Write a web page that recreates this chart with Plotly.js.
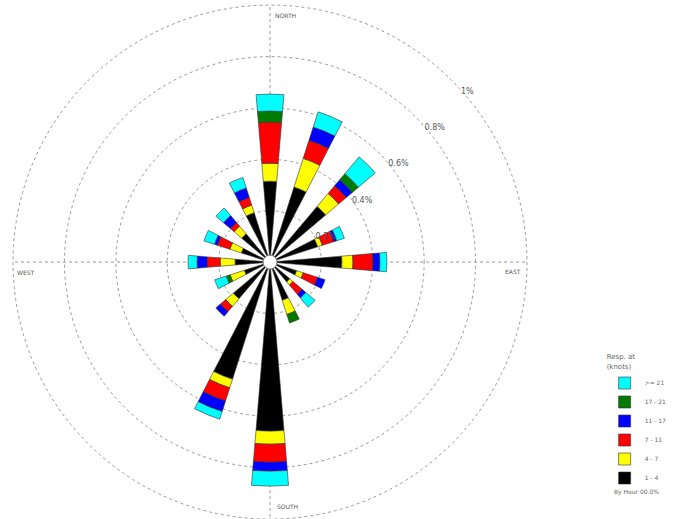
<!DOCTYPE html>
<html>
<head>
<meta charset="utf-8">
<script src="https://cdn.plot.ly/plotly-3.0.1.min.js"></script>
<style>html,body{margin:0;padding:0;background:#fff;}#chart{width:691px;height:519px;}</style>
</head>
<body>
<div id="chart"></div>
<script>
// Direction categories (clockwise from north)
const directions = ['N','NNE','NE','ENE','E','ESE','SE','SSE','S','SSW','SW','WSW','W','WNW','NW','NNW'];
// Speed classes (knots) and colours
const speedClasses = ['1 - 4','4 - 7','7 - 11','11 - 17','17 - 21','>= 21'];
const classColors = ['#000000','#ffff00','#ff0000','#0000ff','#007a00','#00ffff'];
// Frequency (%) per speed class, per direction
const f1to4   = [0.315,0.307,0.284,0.195,0.280,0.109,0.101,0.156,0.658,0.479,0.187,0.105,0.136,0.117,0.144,0.202];
const f4to7   = [0.070,0.117,0.066,0.019,0.043,0.027,0.016,0.058,0.051,0.035,0.039,0.058,0.058,0.047,0.039,0.031];
const f7to11  = [0.160,0.074,0.039,0.047,0.078,0.058,0.047,0.000,0.070,0.054,0.027,0.000,0.051,0.051,0.019,0.031];
const f11to17 = [0.000,0.054,0.031,0.012,0.027,0.031,0.019,0.000,0.035,0.043,0.023,0.000,0.039,0.012,0.035,0.039];
const f17to21 = [0.043,0.000,0.031,0.000,0.000,0.000,0.000,0.035,0.000,0.000,0.000,0.016,0.000,0.000,0.000,0.000];
const fOver21 = [0.066,0.062,0.086,0.031,0.027,0.000,0.047,0.000,0.058,0.031,0.000,0.047,0.035,0.043,0.039,0.043];
const radialTicks = [0.2,0.4,0.6,0.8,1.0];
const radialTickText = ['0.2%','0.4%','0.6%','0.8%','1%'];
const legendTitle = 'Resp. at<br>(knots)';
const footNote = 'By Hour 00.0%';

const series = [f1to4,f4to7,f7to11,f11to17,f17to21,fOver21];
const theta = directions.map((d,i)=> i*360/directions.length);

const traces = series.map((vals,k)=>({
  type:'barpolar',
  name: speedClasses[k],
  r: vals,
  theta: theta,
  width: 9.5,
  marker:{color: classColors[k], line:{color:'#333', width:0.6}},
  hoverinfo:'skip'
}));

const cx = 270, W = 691, H = 519;
const R = 257, cy = H - 0.99*H/2; // polar frame centre / radius in px
const layout = {
  width: W, height: H,
  margin:{l:0,r:0,t:0,b:0},
  paper_bgcolor:'#fff',
  showlegend:true,
  legend:{
    x: 0.875, y: 0.325, xanchor:'left', yanchor:'top',
    traceorder:'reversed',
    font:{family:'DejaVu Sans', size:6, color:'#666'},
    title:{text: legendTitle, font:{family:'DejaVu Sans', size:7, color:'#666'}},
    bgcolor:'rgba(0,0,0,0)'
  },
  polar:{
    domain:{x:[(cx-R)/W, (cx+R)/W], y:[0, 0.99]},
    bgcolor:'#fff',
    barmode:'stack',
    radialaxis:{
      range:[0,1.0], tickvals: radialTicks, ticktext: radialTickText,
      angle:45, tickangle:45, showline:false,
      ticks:'outside', ticklen:7, tickcolor:'rgba(0,0,0,0)',
      ticklabelshift:-14,
      tickfont:{family:'DejaVu Sans', size:8, color:'#555'},
      gridcolor:'#999', griddash:'dot', gridwidth:1
    },
    angularaxis:{
      direction:'clockwise', rotation:90,
      tickmode:'linear', tick0:0, dtick:90,
      showticklabels:false, ticks:'',
      showline:false,
      gridcolor:'#999', griddash:'dot', gridwidth:1
    }
  },
  shapes:[
    {type:'circle', xref:'paper', yref:'paper',
     x0:(cx-R)/W, x1:(cx+R)/W, y0:1-(cy+R)/H, y1:1-(cy-R)/H,
     fillcolor:'rgba(0,0,0,0)', line:{color:'#999', width:1, dash:'dot'}},
    {type:'circle', xref:'paper', yref:'paper',
     x0:(cx-7)/W, x1:(cx+7)/W, y0:1-(cy+7)/H, y1:1-(cy-7)/H,
     fillcolor:'#fff', line:{color:'#777', width:1}}
  ],
  annotations:[
    {text:'NORTH', x:273/W, y:1-15/H, xanchor:'left', yanchor:'middle'},
    {text:'SOUTH', x:275/W, y:1-506/H, xanchor:'left', yanchor:'middle'},
    {text:'EAST', x:503/W, y:1-271/H, xanchor:'left', yanchor:'middle'},
    {text:'WEST', x:15/W, y:1-272/H, xanchor:'left', yanchor:'middle'},
    {text: footNote, x:612/W, y:1-492/H, xanchor:'left', yanchor:'middle', font:{family:'DejaVu Sans', size:6, color:'#666'}}
  ].map(a=>Object.assign({xref:'paper', yref:'paper', showarrow:false, font:{family:'DejaVu Sans', size:6, color:'#555'}}, a))
};

Plotly.newPlot('chart', traces, layout, {displayModeBar:false, staticPlot:true});
</script>
</body>
</html>
